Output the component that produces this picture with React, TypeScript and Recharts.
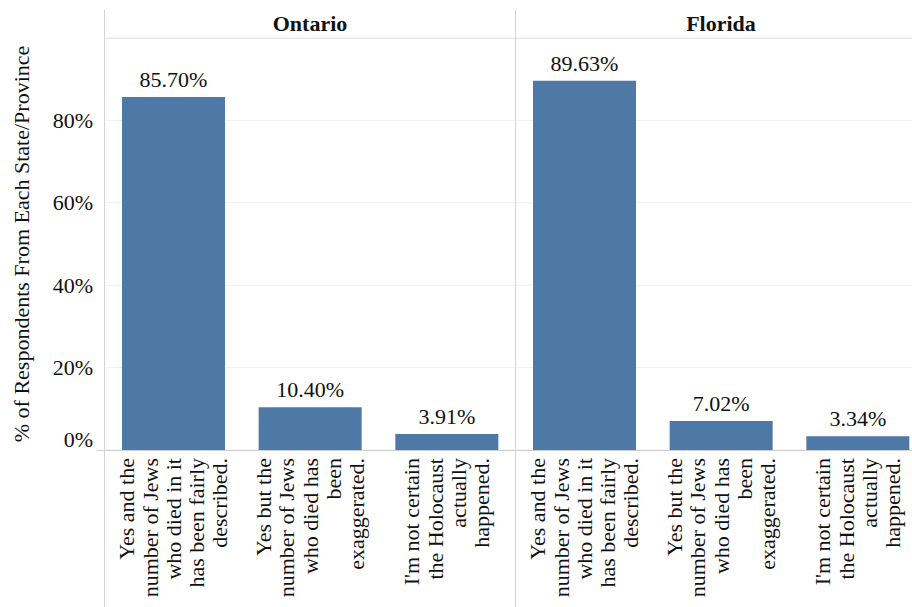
import React from "react";
import { BarChart, Bar, XAxis, YAxis, CartesianGrid, LabelList } from "recharts";

const regions = ["Ontario", "Florida"];
const answers = [
  "Yes and the number of Jews who died in it has been fairly described.",
  "Yes but the number of Jews who died has been exaggerated.",
  "I'm not certain the Holocaust actually happened.",
];
// how each answer wraps under the axis
const answerLines = [
  ["Yes and the", "number of Jews", "who died in it", "has been fairly", "described."],
  ["Yes but the", "number of Jews", "who died has", "been", "exaggerated."],
  ["I'm not certain", "the Holocaust", "actually", "happened."],
];
const ontarioShares = [85.7, 10.4, 3.91];
const floridaShares = [89.63, 7.02, 3.34];
const yTicks = [0, 20, 40, 60, 80];
const yTitle = "% of Respondents From Each State/Province";

const FONT = "Liberation Serif, Tinos, Times New Roman, DejaVu Serif, serif";
const FS = 22;
const BLUE = "#4e79a7";
const TXT = "#111";

const toRows = (shares: number[]) =>
  answers.map((answer, i) => ({ answer, share: shares[i] }));

function AnswerTick(props: any) {
  const { x, y, payload } = props;
  const idx = answers.indexOf(payload.value);
  const lines = idx >= 0 ? answerLines[idx] : [String(payload.value)];
  const step = 23.3;
  return (
    <g>
      {lines.map((line, i) => {
        const cx = x + (i - (lines.length - 1) / 2) * step;
        return (
          <text
            key={i}
            x={cx}
            y={y}
            transform={`rotate(-90, ${cx}, ${y})`}
            textAnchor="end"
            dominantBaseline="central"
            fill={TXT}
            style={{ fontFamily: FONT, fontSize: FS }}
          >
            {line}
          </text>
        );
      })}
    </g>
  );
}

function PercentTick(props: any) {
  const { x, y, payload } = props;
  const ty = payload.value === 0 ? y - 11 : y;
  return (
    <text x={x} y={ty} textAnchor="end" dominantBaseline="central" fill={TXT} style={{ fontFamily: FONT, fontSize: FS }}>
      {payload.value}%
    </text>
  );
}

function YTitle(props: any) {
  const vb = props.viewBox || { y: 38, height: 412 };
  const cy = vb.y + vb.height / 2;
  const cx = 29;
  return (
    <text
      x={cx}
      y={cy}
      transform={`rotate(-90, ${cx}, ${cy})`}
      textAnchor="middle"
      fill={TXT}
      style={{ fontFamily: FONT, fontSize: FS }}
    >
      {yTitle}
    </text>
  );
}

function Panel({ shares, withAxis }: { shares: number[]; withAxis: boolean }) {
  return (
    <BarChart
      width={withAxis ? 515 : 410}
      height={607}
      data={toRows(shares)}
      margin={{ top: 38, right: 0, bottom: 0, left: 0 }}
    >
      <CartesianGrid vertical={false} stroke="#f0f0f0" />
      <XAxis
        dataKey="answer"
        axisLine={false}
        tickLine={false}
        interval={0}
        height={157}
        tick={<AnswerTick />}
      />
      <YAxis
        hide={!withAxis}
        width={105}
        domain={[0, 100]}
        ticks={yTicks}
        axisLine={false}
        tickLine={false}
        tickMargin={6}
        tick={<PercentTick />}
        label={withAxis ? <YTitle /> : undefined}
      />
      <Bar dataKey="share" fill={BLUE} barSize={103} isAnimationActive={false}>
        <LabelList
          dataKey="share"
          position="top"
          offset={10}
          formatter={(v: any) => `${Number(v).toFixed(2)}%`}
          fill={TXT}
          style={{ fontFamily: FONT, fontSize: FS }}
        />
      </Bar>
    </BarChart>
  );
}

const box = (s: React.CSSProperties): React.CSSProperties => ({ position: "absolute", ...s });

export default function App() {
  return (
    <div
      style={{
        position: "fixed",
        left: 0,
        top: 0,
        width: 912,
        height: 607,
        overflow: "hidden",
        background: "#fff",
        fontFamily: FONT,
      }}
    >
      <div style={box({ left: 0, top: 0 })}>
        <Panel shares={ontarioShares} withAxis />
      </div>
      <div style={box({ left: 516, top: 0 })}>
        <Panel shares={floridaShares} withAxis={false} />
      </div>

      {/* facet frame */}
      <div style={box({ left: 104, top: 38, width: 808, height: 1, background: "#e4e4e4" })} />
      <div style={box({ left: 97, top: 450, width: 815, height: 1, background: "#cfcfcf" })} />
      <div style={box({ left: 104, top: 10, width: 1, height: 597, background: "#d4d4d4" })} />
      <div style={box({ left: 515, top: 10, width: 1, height: 597, background: "#d4d4d4" })} />

      {regions.map((r, i) => (
        <div
          key={r}
          style={box({
            left: i === 0 ? 105 : 516,
            top: 10,
            width: 410,
            height: 28,
            lineHeight: "28px",
            textAlign: "center",
            fontWeight: "bold",
            fontSize: FS,
            color: TXT,
          })}
        >
          {r}
        </div>
      ))}
    </div>
  );
}
